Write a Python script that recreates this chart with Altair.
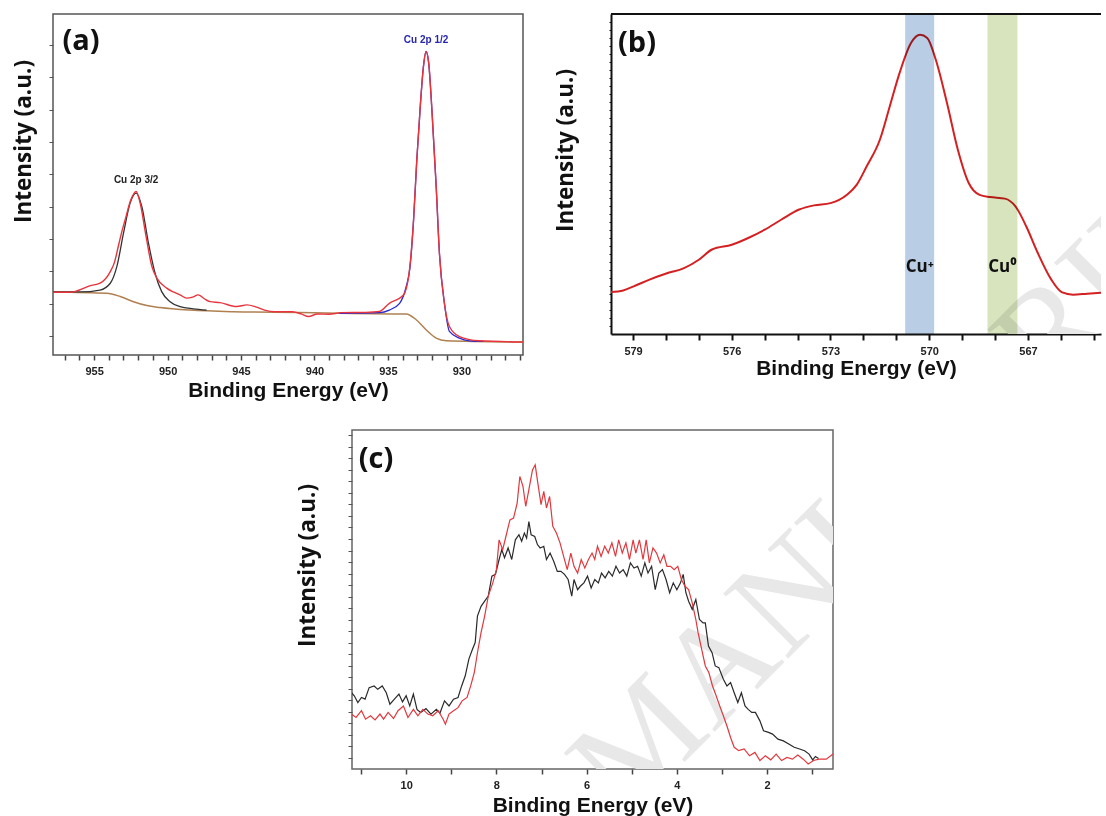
import altair as alt
import numpy as np
import pandas as pd

# ---------------- panel (a): Cu 2p core-level spectrum ----------------
A_RED_BE = [957.8, 956.6, 956.0, 955.3, 954.6, 953.9, 953.6, 953.36, 953.1, 952.89,
            952.5, 952.14, 951.87, 951.46, 951.07, 950.73, 950.06, 949.6, 949.15, 948.7,
            948.3, 947.91, 947.5, 947.11, 946.43, 945.3, 944.6, 944.0, 943.4, 942.7,
            941.5, 940.9, 940.4, 939.8, 939.0, 938.2, 936.5, 935.57, 934.9, 934.5,
            934.1, 933.86, 933.5, 933.25, 933.03, 932.78, 932.58, 932.4, 932.22, 931.99,
            931.71, 931.49, 931.15, 930.81, 930.13, 928.8, 925.8]
A_RED_I = [2.35, 2.35, 2.42, 2.55, 2.63, 2.99, 3.3, 3.76, 4.25, 4.59,
           5.21, 5.47, 5.12, 4.07, 3.15, 2.79, 2.48, 2.36, 2.27, 2.17,
           2.2, 2.27, 2.15, 2.06, 2.03, 1.91, 1.96, 1.9, 1.8, 1.75,
           1.75, 1.68, 1.6, 1.68, 1.67, 1.72, 1.73, 1.76, 2.01, 2.1,
           2.2, 2.32, 3.15, 4.59, 6.45, 8.2, 9.33, 9.8, 9.44, 7.9,
           5.62, 3.56, 2.01, 1.29, 0.98, 0.85, 0.81]

A_FIT1_BE = [957.8, 955.95, 954.6, 953.9, 953.45, 953.0, 952.55, 952.14, 951.75,
             951.3, 950.85, 950.4, 949.83, 949.15, 948.25, 947.34]
A_FIT1_I = [2.36, 2.36, 2.42, 2.63, 3.15, 4.18, 5.11, 5.42, 5.0,
            3.87, 2.94, 2.37, 2.06, 1.91, 1.84, 1.80]

A_FIT2_BE = [938.3, 935.57, 934.9, 934.2, 933.75, 933.5, 933.25, 933.03, 932.78, 932.58,
             932.4, 932.22, 931.99, 931.71, 931.49, 931.15, 930.81, 930.13, 929.45, 928.5]
A_FIT2_I = [1.70, 1.72, 1.8, 2.01, 2.53, 3.1, 4.59, 6.45, 8.2, 9.33,
            9.8, 9.44, 7.9, 5.62, 3.56, 2.01, 1.14, 0.93, 0.85, 0.83]

A_BG_BE = [957.8, 954.13, 953.23, 952.32, 951.41, 950.51, 948.47, 945.53, 940.0, 938.3,
           933.75, 933.07, 932.4, 931.71, 931.03, 925.8]
A_BG_I = [2.36, 2.32, 2.22, 2.06, 1.94, 1.88, 1.80, 1.75, 1.72, 1.70,
          1.68, 1.5, 1.19, 0.93, 0.85, 0.81]

A_PEAK_LABELS = ["Cu 2p 3/2", "Cu 2p 1/2"]
A_PEAK_BE = [952.14, 932.4]
A_PEAK_I = [5.47, 9.8]
A_PEAK_COLORS = ["#222222", "#2626b0"]

# ---------------- panel (b): Cu LMM Auger spectrum ----------------
B_BE = [579.69, 579.3, 578.98, 578.5, 577.99, 577.45, 577.0, 576.6, 576.0, 575.5,
        575.0, 574.5, 573.95, 573.5, 573.0, 572.5, 572.2, 571.9, 571.5, 571.2,
        570.9, 570.55, 570.28, 570.06, 569.8, 569.46, 569.13, 568.8, 568.47, 568.15,
        567.7, 567.38, 567.05, 566.7, 566.29, 565.96, 565.63, 565.2, 564.6]
B_I = [13.1, 13.6, 14.9, 17.0, 18.9, 20.6, 23.2, 26.4, 27.9, 30.0,
       32.6, 35.7, 38.9, 40.2, 40.9, 43.5, 46.7, 52.4, 60.7, 71.1,
       81.6, 91.0, 93.5, 92.5, 85.7, 72.2, 57.6, 47.2, 43.5, 42.8,
       42.3, 39.9, 33.6, 25.3, 17.0, 13.0, 12.3, 12.6, 13.0]

B_BAND_NAMES = ["Cu\u207a", "Cu\u2070"]
B_BAND_LO = [569.85, 567.32]
B_BAND_HI = [570.73, 568.23]
B_BAND_COLORS = ["#b9cde5", "#d7e4bd"]
B_LABEL_I = [21.0, 21.0]

# ---------------- panel (c): valence band spectra ----------------
C_BLACK_BE = [11.21, 11.15, 11.07, 10.99, 10.91, 10.82, 10.71, 10.63, 10.53, 10.44,
              10.36, 10.26, 10.16, 10.08, 10.0, 9.92, 9.84, 9.76, 9.68, 9.56,
              9.45, 9.33, 9.25, 9.15, 9.05, 8.95, 8.85, 8.77, 8.69, 8.61,
              8.53, 8.47, 8.42, 8.34, 8.26, 8.18, 8.10, 8.02, 7.94, 7.88,
              7.82, 7.74, 7.66, 7.58, 7.50, 7.44, 7.38, 7.33, 7.28, 7.23,
              7.15, 7.09, 7.03, 6.95, 6.89, 6.81, 6.73, 6.65, 6.57, 6.49,
              6.41, 6.33, 6.28, 6.20, 6.14, 6.06, 5.98, 5.90, 5.82, 5.74,
              5.67, 5.59, 5.51, 5.43, 5.35, 5.27, 5.19, 5.11, 5.03, 4.95,
              4.87, 4.79, 4.71, 4.64, 4.56, 4.48, 4.40, 4.32, 4.24, 4.16,
              4.08, 4.00, 3.92, 3.86, 3.80, 3.74, 3.66, 3.58, 3.50, 3.42,
              3.37, 3.30, 3.22, 3.15, 3.07, 2.97, 2.89, 2.81, 2.73, 2.65,
              2.57, 2.49, 2.42, 2.34, 2.26, 2.16, 2.08, 1.97, 1.88, 1.76,
              1.64, 1.52, 1.40, 1.28, 1.17, 1.07, 0.99, 0.93, 0.86]
C_BLACK_I = [22.5, 21.6, 19.6, 21.1, 20.6, 24.0, 24.5, 23.5, 24.5, 22.5,
             19.1, 20.6, 22.1, 19.8, 21.6, 18.6, 22.1, 17.6, 16.7, 17.8,
             16.2, 17.6, 16.5, 20.1, 18.6, 20.6, 21.1, 24.5, 27.5, 32.4,
             35.3, 37.3, 45.1, 48.0, 49.5, 51.0, 56.9, 57.4, 61.8, 64.7,
             62.3, 65.2, 61.8, 67.6, 69.1, 67.2, 69.6, 68.1, 73.0, 69.1,
             68.6, 66.2, 65.2, 65.7, 61.8, 63.7, 61.3, 58.3, 58.3, 57.4,
             55.9, 51.0, 55.9, 52.9, 53.9, 54.9, 56.9, 53.4, 55.9, 54.9,
             57.8, 56.4, 58.3, 56.9, 59.8, 57.8, 58.8, 56.9, 60.8, 59.3,
             59.8, 56.9, 60.8, 57.8, 59.8, 52.9, 57.8, 58.8, 55.9, 52.0,
             54.9, 52.9, 54.9, 57.4, 52.0, 49.5, 47.1, 50.0, 44.1, 43.1,
             43.1, 36.3, 34.3, 30.4, 29.9, 26.5, 24.5, 25.5, 22.5, 19.6,
             22.5, 18.6, 17.6, 16.7, 16.7, 14.2, 11.3, 10.8, 10.3, 8.8,
             8.3, 7.4, 6.4, 5.9, 5.4, 4.4, 2.7, 3.7, 3.1]

C_RED_BE = [11.21, 11.11, 10.99, 10.9, 10.79, 10.69, 10.58, 10.5, 10.4, 10.28,
            10.18, 10.06, 9.96, 9.84, 9.74, 9.63, 9.52, 9.41, 9.29, 9.18,
            9.13, 9.05, 8.95, 8.85, 8.76, 8.65, 8.57, 8.49, 8.42, 8.34,
            8.26, 8.18, 8.08, 8.0, 7.94, 7.86, 7.78, 7.70, 7.62, 7.54,
            7.48, 7.41, 7.35, 7.28, 7.20, 7.14, 7.07, 7.01, 6.95, 6.89,
            6.82, 6.75, 6.67, 6.59, 6.51, 6.43, 6.35, 6.28, 6.20, 6.12,
            6.04, 5.96, 5.88, 5.82, 5.76, 5.68, 5.60, 5.52, 5.44, 5.36,
            5.29, 5.21, 5.13, 5.05, 4.97, 4.91, 4.83, 4.75, 4.68, 4.61,
            4.53, 4.45, 4.37, 4.29, 4.22, 4.14, 4.06, 3.98, 3.90, 3.82,
            3.74, 3.66, 3.58, 3.53, 3.45, 3.37, 3.29, 3.21, 3.13, 3.05,
            2.97, 2.89, 2.81, 2.73, 2.63, 2.51, 2.39, 2.27, 2.16, 2.04,
            1.92, 1.80, 1.68, 1.56, 1.44, 1.32, 1.20, 1.09, 0.97, 0.85,
            0.69, 0.54]
C_RED_I = [16.2, 15.2, 17.2, 14.7, 15.7, 14.5, 16.2, 14.7, 16.7, 14.9,
           17.2, 18.6, 15.2, 17.6, 15.7, 17.6, 16.2, 15.7, 17.2, 14.7,
           13.2, 16.2, 17.2, 18.1, 20.1, 21.1, 24.5, 28.4, 34.3, 40.2,
           45.1, 51.0, 54.9, 58.8, 67.6, 64.7, 69.1, 73.5, 74.0, 78.4,
           86.3, 83.3, 77.5, 82.4, 88.2, 89.7, 83.3, 78.0, 81.9, 77.0,
           80.4, 71.6, 69.6, 66.7, 62.7, 58.8, 63.7, 59.8, 57.8, 61.8,
           59.3, 61.8, 63.7, 61.8, 65.7, 62.7, 65.7, 63.7, 66.7, 62.7,
           67.6, 63.7, 66.7, 61.8, 67.6, 63.7, 67.6, 61.8, 67.6, 60.8,
           65.2, 63.7, 60.8, 63.2, 59.8, 59.8, 58.8, 59.8, 55.9, 53.9,
           52.9, 49.0, 44.1, 40.2, 35.3, 30.4, 28.4, 24.5, 21.6, 18.6,
           15.7, 12.7, 9.3, 6.4, 5.4, 5.9, 3.9, 4.9, 2.5, 3.9,
           2.7, 4.4, 2.5, 3.4, 2.9, 4.1, 2.9, 1.5, 2.5, 2.9,
           2.9, 4.4]

# ---------------- shared styling ----------------
TICK_FONT = "Liberation Sans"
TITLE_FONT = "Liberation Sans"
YTITLE_FONT = "Open Sans"
TAG_FONT = "Open Sans"
STAMP_TEXT = "MANUSCRIPT"


def frame(be, i):
    return pd.DataFrame({"be": be, "i": i})


def x_axis(values, every, tick_color, tick_width, label_pad, title_y, title_size):
    return alt.Axis(
        values=values, format="d",
        labelExpr=f"abs(datum.value % {every}) < 0.001 ? datum.label : ''",
        labelOverlap=False,
        labelFont=TICK_FONT, labelFontSize=11, labelFontWeight="bold", labelColor="#222222",
        labelPadding=label_pad,
        tickSize=5, tickWidth=tick_width, tickColor=tick_color,
        domain=False, grid=False,
        title="Binding Energy (eV)", titleFont=TITLE_FONT, titleFontSize=title_size,
        titleFontWeight="bold", titleColor="#111111",
        titleBaseline="middle", titleY=title_y,
    )


def y_axis(values, tick_color, tick_size, title_pad, title_y):
    return alt.Axis(
        values=values, labels=False,
        tickSize=tick_size, tickWidth=1, tickColor=tick_color,
        domain=False, grid=False,
        title="Intensity (a.u.)", titleFont=YTITLE_FONT, titleFontSize=22.5,
        titleFontWeight="bold", titleColor="#111111", titlePadding=title_pad, titleY=title_y,
    )


def tag(label, px, py):
    return alt.Chart(pd.DataFrame({"t": [label]})).mark_text(
        font=TAG_FONT, fontSize=29, fontWeight="bold", color="#111111",
        align="center", baseline="middle",
    ).encode(text="t:N", x=alt.value(px), y=alt.value(py))


def stamp(px, py):
    # faint diagonal manuscript stamp, clipped to the panel it sits in
    return alt.Chart(pd.DataFrame({"t": [STAMP_TEXT]})).mark_text(
        font="Liberation Serif", fontSize=140, color="#e8e8e8", angle=315,
        align="center", baseline="middle", clip=True,
    ).encode(text="t:N", x=alt.value(px), y=alt.value(py))


# ---------------- panel (a) ----------------
A_X_SCALE = alt.Scale(domain=[925.8, 957.8], reverse=True, nice=False, zero=False)
A_Y_SCALE = alt.Scale(domain=[0.41, 10.96], nice=False, zero=False)
A_X_AXIS = x_axis(list(range(926, 958)), 5, "#444444", 1.5, 5, 35, 21)
A_Y_AXIS = y_axis(list(range(1, 11)), "#555555", 4, 13, 127)
ax = alt.X("be:Q", scale=A_X_SCALE, axis=A_X_AXIS)
ay = alt.Y("i:Q", scale=A_Y_SCALE, axis=A_Y_AXIS)


def a_line(be, i, color, width):
    return alt.Chart(frame(be, i)).mark_line(
        color=color, strokeWidth=width, interpolate="monotone", clip=True).encode(x=ax, y=ay)


a_labels = alt.Chart(pd.DataFrame({
    "be": A_PEAK_BE, "i": A_PEAK_I, "t": A_PEAK_LABELS, "c": A_PEAK_COLORS,
})).mark_text(font=TICK_FONT, fontSize=10, fontWeight="bold", dy=-11, baseline="middle").encode(
    x=ax, y=ay, text="t:N", color=alt.Color("c:N", scale=None))

panel_a = alt.layer(
    a_line(A_BG_BE, A_BG_I, "#b08050", 1.5),
    a_line(A_FIT1_BE, A_FIT1_I, "#333333", 1.3),
    a_line(A_FIT2_BE, A_FIT2_I, "#2a2ad0", 1.3),
    a_line(A_RED_BE, A_RED_I, "#e8343c", 1.4),
    a_labels,
    tag("(a)", 28, 27),
).properties(width=470, height=341,
             view=alt.ViewBackground(stroke="#555555", strokeWidth=1.5))

# ---------------- panel (b) ----------------
BW, BH = 490, 320
B_X_SCALE = alt.Scale(domain=[564.78, 579.67], reverse=True, nice=False, zero=False)
B_Y_SCALE = alt.Scale(domain=[0, 100], nice=False, zero=False)
B_X_AXIS = alt.Axis(
    values=list(range(565, 580)), format="d",
    labelExpr="datum.value % 3 === 0 ? datum.label : ''", labelOverlap=False,
    labelFont=TICK_FONT, labelFontSize=11, labelFontWeight="bold", labelColor="#222222",
    labelPadding=5, tickSize=6, tickWidth=2, tickColor="#111111",
    domain=True, domainColor="#111111", domainWidth=2, grid=False,
    title="Binding Energy (eV)", titleFont=TITLE_FONT, titleFontSize=21,
    titleFontWeight="bold", titleColor="#111111", titleBaseline="middle", titleY=34)
B_Y_AXIS = alt.Axis(
    values=list(np.arange(2.5, 100, 2.5)), labels=False,
    tickSize=2, tickWidth=1, tickColor="#111111",
    domain=True, domainColor="#111111", domainWidth=2, grid=False,
    title="Intensity (a.u.)", titleFont=YTITLE_FONT, titleFontSize=22.5,
    titleFontWeight="bold", titleColor="#111111", titlePadding=31, titleY=136)


def bx(field):
    return alt.X(f"{field}:Q", scale=B_X_SCALE, axis=B_X_AXIS)


by = alt.Y("i:Q", scale=B_Y_SCALE, axis=B_Y_AXIS)

b_line = alt.Chart(frame(B_BE, B_I)).mark_line(
    color="#d42020", strokeWidth=2, interpolate="monotone", clip=True).encode(x=bx("be"), y=by)

bands = pd.DataFrame({"lo": B_BAND_LO, "hi": B_BAND_HI, "c": B_BAND_COLORS,
                      "t": B_BAND_NAMES,
                      "mid": [(lo + hi) / 2 for lo, hi in zip(B_BAND_LO, B_BAND_HI)],
                      "i": B_LABEL_I})
b_bands = alt.Chart(bands).mark_rect(blend="multiply").encode(
    x=bx("lo"), x2="hi:Q", color=alt.Color("c:N", scale=None))
b_band_labels = alt.Chart(bands).mark_text(
    font="'Open Sans', 'Noto Sans'", fontSize=17, fontWeight="bold", color="#111111",
    baseline="middle",
).encode(x=bx("mid"), y=by, text="t:N")
b_top = alt.Chart(pd.DataFrame({"v": [0]})).mark_rule(color="#111111", strokeWidth=2).encode(
    x=alt.value(0), x2=alt.value(BW), y=alt.value(0))

panel_b = alt.layer(
    stamp(304, 458), b_line, b_bands, b_band_labels, b_top, tag("(b)", 26, 29),
).properties(width=BW, height=BH, view=alt.ViewBackground(strokeOpacity=0))

# ---------------- panel (c) ----------------
C_X_SCALE = alt.Scale(domain=[0.54, 11.2], reverse=True, nice=False, zero=False)
C_Y_SCALE = alt.Scale(domain=[0, 100], nice=False, zero=False)
C_X_AXIS = x_axis(list(np.arange(1.0, 11.01, 0.5)), 2, "#444444", 1.5, 5, 36, 21)
C_Y_AXIS = y_axis([3.24 + 3.40 * k for k in range(29)], "#555555", 4, 28, 135)
cx = alt.X("be:Q", scale=C_X_SCALE, axis=C_X_AXIS)
cy = alt.Y("i:Q", scale=C_Y_SCALE, axis=C_Y_AXIS)

panel_c = alt.layer(
    stamp(563, 42),
    alt.Chart(frame(C_BLACK_BE, C_BLACK_I)).mark_line(
        color="#2a2a2a", strokeWidth=1.2, clip=True).encode(x=cx, y=cy),
    alt.Chart(frame(C_RED_BE, C_RED_I)).mark_line(
        color="#e0383e", strokeWidth=1.2, clip=True).encode(x=cx, y=cy),
    tag("(c)", 24, 29),
).properties(width=481, height=339,
             view=alt.ViewBackground(stroke="#666666", strokeWidth=1.5))

# empty cell that offsets panel (c) to the right
spacer = alt.Chart(pd.DataFrame({"v": [0]})).mark_point(opacity=0).encode(
    x=alt.X("v:Q", axis=None), y=alt.Y("v:Q", axis=None),
).properties(width=242, height=20, view=alt.ViewBackground(strokeOpacity=0))

chart = alt.vconcat(
    alt.hconcat(panel_a, panel_b, spacing=30),
    alt.hconcat(spacer, panel_c, spacing=0),
    spacing=28,
).properties(
    padding={"left": 11, "top": 13, "right": 0, "bottom": 0},
    background="white",
)

chart.save("out.html", embed_options={"renderer": "svg", "actions": False})
